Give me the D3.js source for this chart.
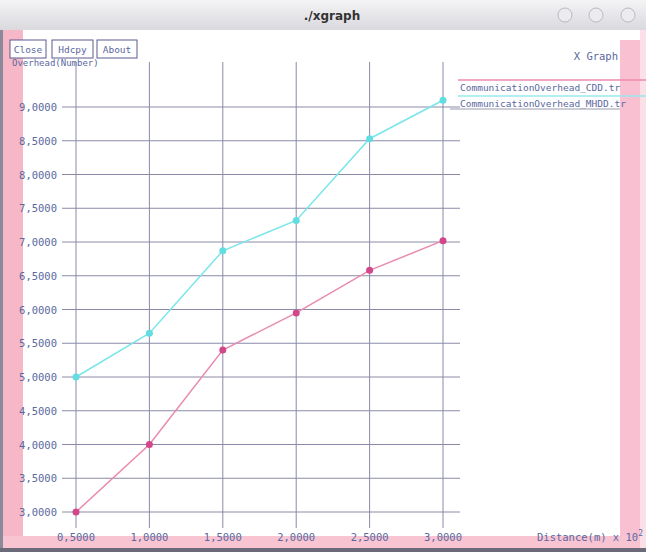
<!DOCTYPE html>
<html lang="en">
<head>
<meta charset="utf-8">
<style>
  body { margin: 0; background: #fff; }
  svg { font-family: 'DejaVu Sans Mono', monospace; }
  .grid line { stroke: #8a8aa8; stroke-width: 1; }
  .lbl { fill: #5a68a0; font-size: 10.5px; }
  .btn rect { fill: #fff; stroke: #5a5a90; stroke-width: 1; }
</style>
</head>
<body>
<svg width="646" height="552"></svg>
<script src="https://d3js.org/d3.v7.min.js"></script>
<script>
// values
const distance = [0.5, 1.0, 1.5, 2.0, 2.5, 3.0];
const cddValues = [5.0, 5.65, 6.87, 7.32, 8.53, 9.1];
const mhddValues = [3.0, 4.0, 5.4, 5.95, 6.58, 7.02];
const xTicks = [0.5, 1.0, 1.5, 2.0, 2.5, 3.0];
const yTicks = [3, 3.5, 4, 4.5, 5, 5.5, 6, 6.5, 7, 7.5, 8, 8.5, 9];
const seriesNames = ["CommunicationOverhead_CDD.tr", "CommunicationOverhead_MHDD.tr"];

const svg = d3.select("svg");

// window chrome
const tg = svg.append("defs").append("linearGradient")
  .attr("id", "tb").attr("x1", 0).attr("x2", 0).attr("y1", 0).attr("y2", 1);
tg.append("stop").attr("offset", "0%").attr("stop-color", "#f4f4f6");
tg.append("stop").attr("offset", "100%").attr("stop-color", "#d9d9de");
svg.append("rect").attr("x", 0).attr("y", 0).attr("width", 646).attr("height", 30).attr("fill", "url(#tb)");
svg.append("text").attr("x", 332).attr("y", 20).attr("text-anchor", "middle")
  .style("font-family", "'DejaVu Sans'").style("font-size", "12px").style("font-weight", "bold")
  .attr("fill", "#333").text("./xgraph");
[565, 596, 628].forEach(cx => {
  svg.append("circle").attr("cx", cx).attr("cy", 15).attr("r", 7)
    .attr("fill", "#ececf0").attr("stroke", "#b8b8c0");
});

// side and bottom bands
svg.append("rect").attr("x", 0).attr("y", 30).attr("width", 3).attr("height", 522).attr("fill", "#8a8a98");
svg.append("rect").attr("x", 3).attr("y", 30).attr("width", 20).attr("height", 522).attr("fill", "#f6b8c6");
svg.append("rect").attr("x", 620).attr("y", 40).attr("width", 20).attr("height", 512).attr("fill", "#f8c0d0");
svg.append("rect").attr("x", 640).attr("y", 30).attr("width", 6).attr("height", 522).attr("fill", "#fbe0e8");
svg.append("rect").attr("x", 3).attr("y", 536).attr("width", 637).attr("height", 12).attr("fill", "#f8c4d2");
svg.append("rect").attr("x", 0).attr("y", 548).attr("width", 646).attr("height", 4).attr("fill", "#6a6a78");

// buttons
const buttons = [["Close", 10, 36], ["Hdcpy", 52, 41], ["About", 97, 40]];
buttons.forEach(([t, bx, bw]) => {
  const g = svg.append("g").attr("class", "btn");
  g.append("rect").attr("x", bx).attr("y", 40).attr("width", bw).attr("height", 18);
  g.append("text").attr("class", "lbl").attr("x", bx + bw / 2).attr("y", 53)
    .attr("text-anchor", "middle").style("font-size", "9.5px").text(t);
});
svg.append("text").attr("class", "lbl").attr("x", 12).attr("y", 66)
  .style("font-size", "9px").text("Overhead(Number)");
svg.append("text").attr("class", "lbl").attr("x", 618).attr("y", 60)
  .attr("text-anchor", "end").text("X Graph");

// scales
const x = d3.scaleLinear().domain([0.5, 3.0]).range([76, 443]);
const y = d3.scaleLinear().domain([3, 9]).range([512, 107]);
const fmt = v => d3.format(".4f")(v).replace(".", ",");

const grid = svg.append("g").attr("class", "grid");
grid.selectAll("line.h").data(yTicks).join("line").attr("class", "h")
  .attr("x1", 62).attr("x2", 460).attr("y1", d => y(d)).attr("y2", d => y(d));
grid.selectAll("line.v").data(xTicks).join("line").attr("class", "v")
  .attr("x1", d => x(d)).attr("x2", d => x(d)).attr("y1", 62).attr("y2", 528);

svg.selectAll("text.yt").data(yTicks).join("text").attr("class", "lbl yt")
  .attr("x", 57).attr("y", d => y(d) + 4).attr("text-anchor", "end").text(fmt);
svg.selectAll("text.xt").data(xTicks).join("text").attr("class", "lbl xt")
  .attr("x", d => x(d)).attr("y", 541).attr("text-anchor", "middle").text(fmt);

const xl = svg.append("text").attr("class", "lbl").attr("x", 537).attr("y", 541);
xl.append("tspan").text("Distance(m) x 10");
xl.append("tspan").attr("dy", -5).style("font-size", "8px").text("2");

// series
const series = [
  { name: seriesNames[0], values: cddValues, line: "#7ae6ea", dot: "#62dde2" },
  { name: seriesNames[1], values: mhddValues, line: "#e98ab0", dot: "#d2478a" }
];
const line = d3.line().x(d => x(d[0])).y(d => y(d[1]));
series.forEach(s => {
  const pts = distance.map((d, i) => [d, s.values[i]]);
  svg.append("path").attr("d", line(pts)).attr("fill", "none")
    .attr("stroke", s.line).attr("stroke-width", 1.5);
  svg.selectAll(null).data(pts).join("circle")
    .attr("cx", d => x(d[0])).attr("cy", d => y(d[1])).attr("r", 3.5)
    .attr("fill", s.dot);
});

// legend
const legendColors = ["#ef8ab0", "#9ae8ec"];
seriesNames.forEach((n, i) => {
  const ly = 80 + i * 16;
  svg.append("line").attr("x1", 458).attr("x2", 646).attr("y1", ly).attr("y2", ly)
    .attr("stroke", legendColors[i]).attr("stroke-width", 1.5);
  svg.append("text").attr("class", "lbl").attr("x", 460).attr("y", ly + 11)
    .style("font-size", "9.5px").text(n);
});
svg.append("line").attr("x1", 450).attr("x2", 620).attr("y1", 109).attr("y2", 109)
  .attr("stroke", "#9a9ab0").attr("stroke-width", 1);
</script>
</body>
</html>
